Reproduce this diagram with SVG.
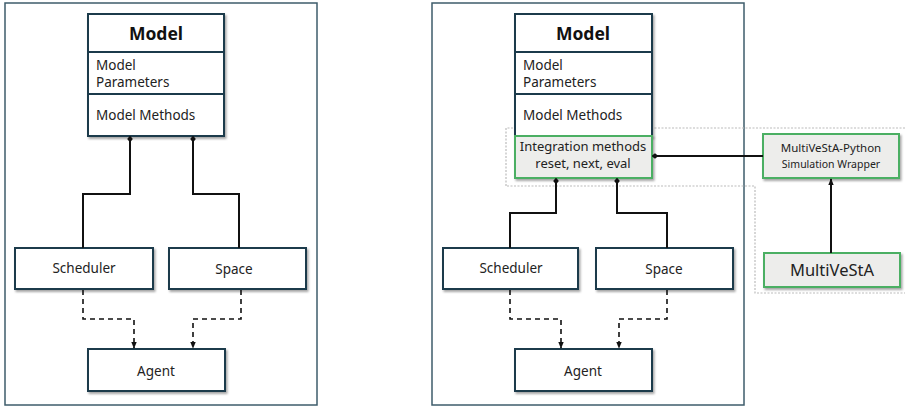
<svg xmlns="http://www.w3.org/2000/svg" width="905" height="408" viewBox="0 0 905 408">
<defs>
<filter id="sh" x="-10%" y="-10%" width="130%" height="140%">
<feDropShadow dx="1.5" dy="2" stdDeviation="1.2" flood-color="#000" flood-opacity="0.35"/>
</filter>
<marker id="dia" viewBox="0 0 10 10" refX="5" refY="5" markerWidth="7" markerHeight="7" orient="auto-start-reverse" markerUnits="userSpaceOnUse">
<path d="M0,5 L5,1 L10,5 L5,9 Z" fill="#111"/>
</marker>
<marker id="arr" viewBox="0 0 10 10" refX="9" refY="5" markerWidth="7" markerHeight="7" orient="auto" markerUnits="userSpaceOnUse">
<path d="M0,1 L10,5 L0,9 Z" fill="#111"/>
</marker>
</defs>
<style>
.frame{fill:#fff;stroke:#3e5c6b;stroke-width:1.5}
.box{fill:#fff;stroke:#1b3a4b;stroke-width:2;filter:url(#sh)}
.gbox{fill:#ededeb;stroke:#4caf63;stroke-width:2;filter:url(#sh)}
.div{stroke:#1b3a4b;stroke-width:2}
.t{font-family:"Noto Sans","Liberation Sans",sans-serif;font-size:13.5px;fill:#222}
.c{text-anchor:middle}
.b{font-weight:bold;font-size:17.5px;fill:#111}
.solid{fill:none;stroke:#111;stroke-width:2}
.dash{fill:none;stroke:#111;stroke-width:1.6;stroke-dasharray:5,4}
.dot{fill:none;stroke:#bbb;stroke-width:1.2;stroke-dasharray:2,1.5}
</style>

<rect class="frame" x="5" y="3" width="312" height="402"/>
<rect class="frame" x="432" y="3" width="312" height="402"/>
<path class="dot" d="M506,186 L506,128 L906,128 M906,293 L755,293 L755,186 L506,186"/>

<g id="model-left">
<rect class="box" x="88" y="14" width="136" height="122"/>
<line class="div" x1="88" y1="52" x2="224" y2="52"/>
<line class="div" x1="88" y1="94" x2="224" y2="94"/>
<text class="t c b" x="156" y="40">Model</text>
<text class="t" x="96" y="70">Model</text>
<text class="t" x="96" y="87">Parameters</text>
<text class="t" x="96" y="120">Model Methods</text>
</g>
<g id="scheduler-left">
<rect class="box" x="15" y="248" width="138" height="41"/>
<text class="t c" x="84" y="273">Scheduler</text>
</g>
<g id="space-left">
<rect class="box" x="169" y="248" width="137" height="41"/>
<text class="t c" x="234" y="274">Space</text>
</g>
<g id="agent-left">
<rect class="box" x="88" y="349" width="137" height="42"/>
<text class="t c" x="156" y="376">Agent</text>
</g>

<g id="model-right">
<rect class="box" x="515" y="14" width="137" height="122"/>
<line class="div" x1="515" y1="52" x2="652" y2="52"/>
<line class="div" x1="515" y1="94" x2="652" y2="94"/>
<text class="t c b" x="583" y="40">Model</text>
<text class="t" x="523" y="70">Model</text>
<text class="t" x="523" y="87">Parameters</text>
<text class="t" x="523" y="120">Model Methods</text>
</g>
<g id="integration">
<rect class="gbox" x="515" y="136" width="137" height="42"/>
<text class="t c" x="583" y="151" style="font-size:13px">Integration methods</text>
<text class="t c" x="583" y="168" style="font-size:13px">reset, next, eval</text>
</g>
<g id="scheduler-right">
<rect class="box" x="443" y="248" width="135" height="41"/>
<text class="t c" x="511" y="273">Scheduler</text>
</g>
<g id="space-right">
<rect class="box" x="596" y="248" width="137" height="41"/>
<text class="t c" x="664" y="274">Space</text>
</g>
<g id="agent-right">
<rect class="box" x="515" y="349" width="137" height="42"/>
<text class="t c" x="583" y="376">Agent</text>
</g>
<g id="wrapper">
<rect class="gbox" x="763" y="134" width="136" height="44"/>
<text class="t c" x="831" y="152" style="font-size:11.5px">MultiVeStA-Python</text>
<text class="t c" x="831" y="168" style="font-size:10.5px">Simulation Wrapper</text>
</g>
<g id="multivesta">
<rect class="gbox" x="764" y="253" width="136" height="34"/>
<text class="t c" x="832" y="276" style="font-size:16.5px">MultiVeStA</text>
</g>

<g id="connectors">
<path class="solid" d="M130,139 L130,194 L83,194 L83,248" marker-start="url(#dia)"/>
<path class="solid" d="M193,139 L193,194 L239,194 L239,248" marker-start="url(#dia)"/>
<path class="dash" d="M83,290 L83,319 L134,319 L134,348" marker-end="url(#arr)"/>
<path class="dash" d="M241,290 L241,319 L193,319 L193,348" marker-end="url(#arr)"/>
<path class="solid" d="M556,181 L556,213 L510,213 L510,248" marker-start="url(#dia)"/>
<path class="solid" d="M617,181 L617,213 L667,213 L667,248" marker-start="url(#dia)"/>
<path class="dash" d="M510,290 L510,319 L561,319 L561,348" marker-end="url(#arr)"/>
<path class="dash" d="M667,290 L667,319 L619,319 L619,348" marker-end="url(#arr)"/>
<path class="solid" d="M655,156 L763,156" marker-start="url(#dia)"/>
<path class="solid" d="M831,253 L831,179" marker-end="url(#arr)"/>
</g>
</svg>
